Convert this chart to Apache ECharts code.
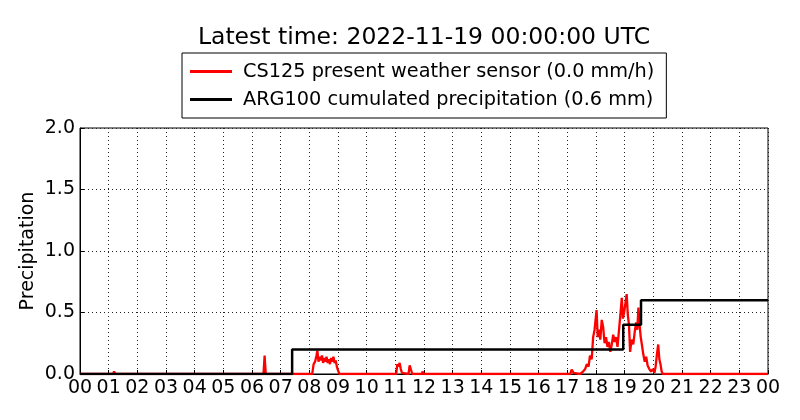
<!DOCTYPE html>
<html>
<head>
<meta charset="utf-8">
<script src="https://cdn.jsdelivr.net/npm/echarts@6/dist/echarts.min.js"></script>
<style>
  html, body { margin: 0; padding: 0; background: #fff; }
  #chart { width: 800px; height: 420px; }
</style>
</head>
<body>
<div id="chart"></div>
<script>
const hourLabels = ['00', '01', '02', '03', '04', '05', '06', '07', '08', '09', '10', '11',
  '12', '13', '14', '15', '16', '17', '18', '19', '20', '21', '22', '23', '00'];

// CS125 present weather sensor (mm/h)
const redHours = [0, 1.15, 1.19, 1.23, 6.40, 6.44, 6.48,
  8.10, 8.15, 8.20, 8.25, 8.28, 8.32, 8.36, 8.40, 8.44, 8.48, 8.52, 8.56, 8.60, 8.64,
  8.68, 8.72, 8.76, 8.80, 8.84, 8.88, 8.92, 8.96, 9.00, 9.05,
  11.03, 11.07, 11.11, 11.15, 11.19, 11.23, 11.46, 11.50, 11.55, 11.59,
  11.92, 11.95, 11.99, 12.12, 12.15, 12.20,
  17.10, 17.15, 17.22, 17.44, 17.55, 17.62, 17.68, 17.74, 17.79, 17.85, 17.90, 17.95,
  18.02, 18.06, 18.10, 18.15, 18.20, 18.25, 18.30, 18.35, 18.40, 18.45, 18.50, 18.55,
  18.60, 18.65, 18.70, 18.75, 18.80, 18.85, 18.90, 18.94, 18.98, 19.03, 19.07, 19.11,
  19.15, 19.19, 19.24, 19.30, 19.35, 19.40, 19.44, 19.48, 19.52, 19.56, 19.60, 19.65,
  19.70, 19.75, 19.80, 19.86, 19.92, 19.98, 20.04, 20.08, 20.12, 20.17, 20.21, 20.25,
  20.29, 20.33, 24];
const redValues = [0, 0, 0.02, 0, 0, 0.15, 0,
  0, 0.08, 0.10, 0.15, 0.19, 0.10, 0.14, 0.11, 0.15, 0.09, 0.13, 0.10, 0.14, 0.09,
  0.12, 0.08, 0.13, 0.10, 0.14, 0.09, 0.11, 0.06, 0.03, 0,
  0, 0.08, 0.06, 0.09, 0.04, 0.01, 0, 0.07, 0.06, 0,
  0, 0.02, 0, 0, 0.015, 0,
  0, 0.035, 0.01, 0, 0.02, 0.04, 0.08, 0.06, 0.15, 0.12, 0.30, 0.36,
  0.52, 0.30, 0.36, 0.28, 0.44, 0.38, 0.25, 0.30, 0.22, 0.26, 0.18, 0.24,
  0.32, 0.26, 0.30, 0.22, 0.35, 0.48, 0.62, 0.45, 0.50, 0.58, 0.65, 0.48,
  0.40, 0.18, 0.28, 0.24, 0.34, 0.42, 0.36, 0.54, 0.40, 0.30, 0.24, 0.16,
  0.10, 0.14, 0.07, 0.04, 0.02, 0.04, 0.01, 0.06, 0.15, 0.24, 0.12, 0.08,
  0.02, 0, 0];

// ARG100 cumulated precipitation (mm), step changes
const blackHours = [0, 7.40, 18.95, 19.57, 24];
const blackValues = [0, 0.2, 0.4, 0.6, 0.6];

const zip = (xs, ys) => xs.map((x, i) => [x, ys[i]]);

const font = 'DejaVu Sans';

const drawChart = (domElement) => {
  const chart = echarts.init(domElement);
  const option = {
    animation: false,
    title: {
      text: 'Latest time: 2022-11-19 00:00:00 UTC',
      left: 419,
      textAlign: 'center',
      top: 21,
      textStyle: { fontFamily: font, fontSize: 23.5, fontWeight: 'normal', color: '#000' },
    },
    legend: {
      orient: 'vertical',
      left: 182,
      top: 53,
      padding: [9, 12, 9, 8],
      itemGap: 9,
      itemWidth: 42,
      itemHeight: 3,
      icon: 'rect',
      borderColor: '#000',
      borderWidth: 1,
      textStyle: { fontFamily: font, fontSize: 19.3, color: '#000', padding: [0, 0, 0, 6] },
      data: ['CS125 present weather sensor (0.0 mm/h)', 'ARG100 cumulated precipitation (0.6 mm)'],
    },
    grid: {
      left: 80, right: 32, top: 128, bottom: 46,
      show: true, borderColor: '#000', borderWidth: 1,
    },
    xAxis: {
      type: 'value',
      min: 0,
      max: 24,
      interval: 1,
      axisLine: { show: true, lineStyle: { color: '#000', width: 1 } },
      axisTick: { show: true, inside: true, length: 4, lineStyle: { color: '#000' } },
      axisLabel: {
        fontFamily: font, fontSize: 19, color: '#000', margin: 5,
        formatter: (v) => hourLabels[v],
      },
      splitLine: { show: true, lineStyle: { color: '#222', type: [1, 3], width: 1 } },
    },
    yAxis: {
      type: 'value',
      min: 0,
      max: 2,
      interval: 0.5,
      name: 'Precipitation',
      nameLocation: 'middle',
      nameGap: 42,
      nameMoveOverlap: false,
      nameTextStyle: { fontFamily: font, fontSize: 19, color: '#000' },
      axisLine: { show: true, lineStyle: { color: '#000', width: 1 } },
      axisTick: { show: true, inside: true, length: 4, lineStyle: { color: '#000' } },
      axisLabel: {
        fontFamily: font, fontSize: 19, color: '#000', margin: 5,
        formatter: (v) => v.toFixed(1),
      },
      splitLine: { show: true, lineStyle: { color: '#222', type: [1, 3], width: 1 } },
    },
    series: [
      {
        name: 'CS125 present weather sensor (0.0 mm/h)',
        type: 'line',
        z: 2,
        data: zip(redHours, redValues),
        showSymbol: false,
        symbol: 'none',
        color: '#ff0000',
        lineStyle: { color: '#ff0000', width: 2.3 },
      },
      {
        name: 'ARG100 cumulated precipitation (0.6 mm)',
        type: 'line',
        z: 3,
        step: 'end',
        data: zip(blackHours, blackValues),
        showSymbol: false,
        symbol: 'none',
        color: '#000',
        lineStyle: { color: '#000', width: 2.5 },
      },
    ],
  };
  chart.setOption(option);
};

drawChart(document.querySelector('#chart'));
</script>
</body>
</html>
